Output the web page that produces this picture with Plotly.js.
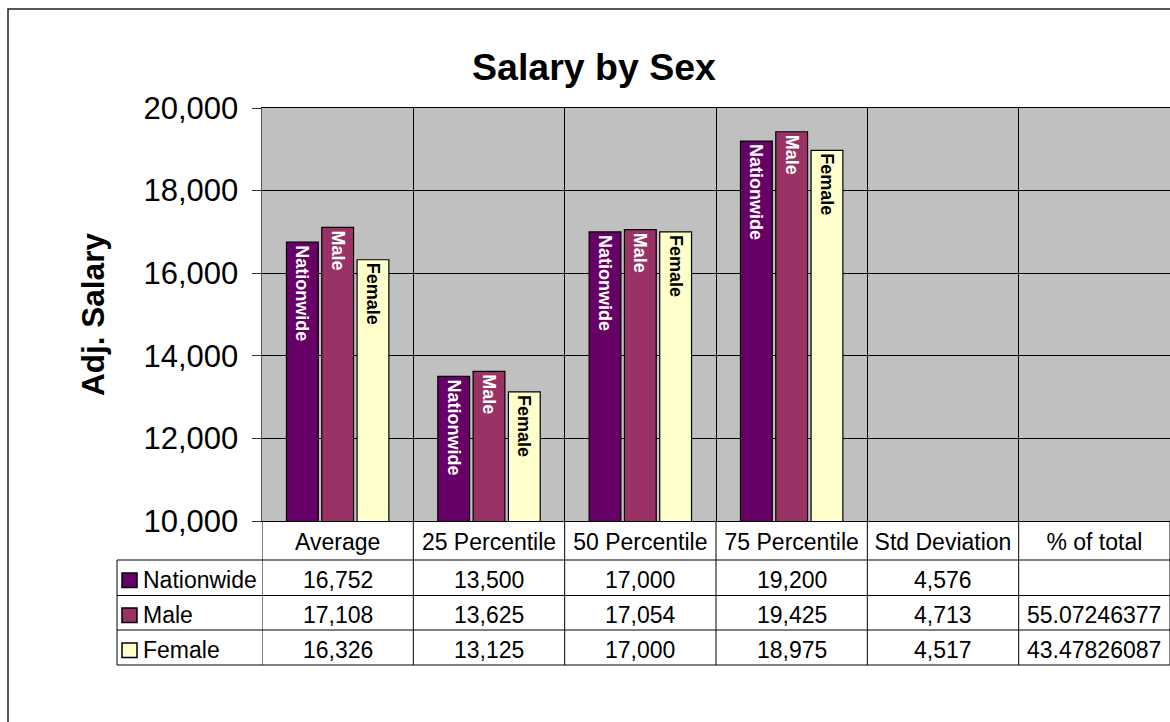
<!DOCTYPE html>
<html>
<head>
<meta charset="utf-8">
<script src="https://cdn.plot.ly/plotly-3.0.1.min.js"></script>
<style>html,body{margin:0;padding:0;background:#fff;}#chart{width:1170px;height:722px;}</style>
</head>
<body>
<div id="chart"></div>
<script>
// ---- data ----
var categories = ['Average', '25 Percentile', '50 Percentile', '75 Percentile', 'Std Deviation', '% of total'];
var seriesNames = ['Nationwide', 'Male', 'Female'];
var nationwide = [16752, 13500, 17000, 19200, 4576, null];
var male = [17108, 13625, 17054, 19425, 4713, 55.07246377];
var female = [16326, 13125, 17000, 18975, 4517, 43.47826087];
var yTickRange = [10000, 20000];
var yTickStep = 2000;

// ---- style ----
var FONT = 'Arial, "Liberation Sans", Helvetica, sans-serif';
var colors = ['#660066', '#993366', '#FFFFCC'];
var labelColors = ['#FFFFFF', '#FFFFFF', '#000000'];
var seriesValues = [nationwide, male, female];

var W = 1170, H = 722;
var mL = 262, mR = 0, mT = 108, mB = 201;
var plotW = W - mL - mR, plotH = H - mT - mB;
function px2paperX(px) { return (px - mL) / plotW; }
function px2paperY(py) { return (H - mB - py) / plotH; }

var fmt = new Intl.NumberFormat('en-US', {maximumFractionDigits: 0});
function cellText(catIdx, v) {
  if (v === null || v === undefined) return '';
  if (categories[catIdx] === '% of total') return String(v);
  return fmt.format(v);
}

var traces = seriesValues.map(function (vals, s) {
  return {
    type: 'bar',
    name: seriesNames[s],
    x: categories,
    y: vals,
    text: vals.map(function (v) { return (v !== null && v > yTickRange[0]) ? seriesNames[s] : ''; }),
    textposition: 'inside',
    insidetextanchor: 'end',
    textangle: 90,
    insidetextfont: {family: FONT, size: 18, color: labelColors[s], weight: 'bold'},
    marker: {color: colors[s], line: {color: '#000000', width: 1.2}},
    hoverinfo: 'name+y',
    cliponaxis: true
  };
});

// table geometry (pixels)
var tableLeft = 117, headerBottom = 560, rowBounds = [560, 595.5, 630, 665];
var rowCenters = [580, 615, 650];
var TABLE_FONT = 23;
var shapes = [];
var annotations = [];

// outer chart frame
shapes.push({type: 'rect', xref: 'paper', yref: 'paper',
  x0: px2paperX(8), x1: px2paperX(1180), y0: px2paperY(9), y1: px2paperY(740),
  line: {color: '#222222', width: 1.5}, fillcolor: 'rgba(0,0,0,0)', layer: 'below'});

// horizontal table lines
rowBounds.forEach(function (py) {
  shapes.push({type: 'line', xref: 'paper', yref: 'paper',
    x0: px2paperX(tableLeft), x1: 1, y0: px2paperY(py), y1: px2paperY(py),
    line: {color: '#000000', width: 1}});
});
// vertical table lines at category boundaries
for (var i = 0; i <= categories.length; i++) {
  shapes.push({type: 'line', xref: 'x', yref: 'paper',
    x0: i - 0.5, x1: i - 0.5, y0: 0, y1: px2paperY(rowBounds[rowBounds.length - 1]),
    line: {color: '#000000', width: 1}});
}
// left table border
shapes.push({type: 'line', xref: 'paper', yref: 'paper',
  x0: px2paperX(tableLeft), x1: px2paperX(tableLeft),
  y0: px2paperY(headerBottom), y1: px2paperY(rowBounds[rowBounds.length - 1]),
  line: {color: '#000000', width: 1}});

// legend keys and names
seriesNames.forEach(function (name, s) {
  var cy = rowCenters[s];
  shapes.push({type: 'rect', xref: 'paper', yref: 'paper',
    x0: px2paperX(122), x1: px2paperX(137), y0: px2paperY(cy - 7), y1: px2paperY(cy + 7.5),
    fillcolor: colors[s], line: {color: '#000000', width: 1.5}});
  annotations.push({xref: 'paper', yref: 'paper', x: px2paperX(141), y: px2paperY(cy),
    xanchor: 'left', yanchor: 'middle', showarrow: false, text: name,
    font: {family: FONT, size: TABLE_FONT, color: '#000000'}});
  seriesValues[s].forEach(function (v, c) {
    annotations.push({xref: 'x', yref: 'paper', x: c, y: px2paperY(cy),
      xanchor: 'center', yanchor: 'middle', showarrow: false, text: cellText(c, v),
      font: {family: FONT, size: TABLE_FONT, color: '#000000'}});
  });
});

var layout = {
  width: W, height: H,
  margin: {l: mL, r: mR, t: mT, b: mB, pad: 0},
  paper_bgcolor: '#FFFFFF',
  plot_bgcolor: '#C0C0C0',
  font: {family: FONT, color: '#000000'},
  showlegend: false,
  barmode: 'group',
  bargap: 0.3,
  bargroupgap: 0.1,
  title: {text: 'Salary by Sex', font: {family: FONT, size: 37.5, weight: 'bold', color: '#000000'},
    xref: 'container', yref: 'container', x: 594 / W, y: 1 - 67 / H, xanchor: 'center', yanchor: 'middle'},
  xaxis: {
    type: 'category', range: [-0.5, categories.length - 0.5],
    tickson: 'boundaries', showgrid: true, gridcolor: '#000000', gridwidth: 1,
    ticks: '', showline: true, linecolor: '#000000', linewidth: 1, mirror: true,
    tickfont: {family: FONT, size: TABLE_FONT, color: '#000000'},
    ticklabelstandoff: 0,
    fixedrange: true
  },
  yaxis: {
    range: yTickRange, dtick: yTickStep, tick0: yTickRange[0], tickformat: ',d',
    ticks: 'outside', ticklen: 9, tickcolor: '#333333', tickwidth: 1,
    showgrid: true, gridcolor: '#000000', gridwidth: 1,
    showline: true, linecolor: '#555555', linewidth: 1.5, mirror: true,
    zeroline: false,
    tickfont: {family: FONT, size: 31, color: '#000000'},
    ticklabelstandoff: 7,
    title: {text: 'Adj. Salary', font: {family: FONT, size: 31.5, weight: 'bold', color: '#000000'}, standoff: 29},
    fixedrange: true
  },
  shapes: shapes,
  annotations: annotations
};

Plotly.newPlot('chart', traces, layout, {displayModeBar: false, staticPlot: true});
</script>
</body>
</html>
